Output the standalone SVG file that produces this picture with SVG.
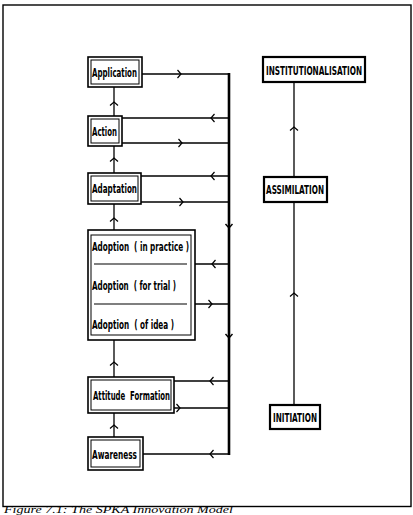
<svg xmlns="http://www.w3.org/2000/svg" width="413" height="515" viewBox="0 0 413 515">
  <style>
    .box{fill:#fff;stroke:#000;stroke-width:1.6}
    .inner{fill:none;stroke:#000;stroke-width:1}
    .rbox{fill:#fff;stroke:#000;stroke-width:2.2}
    .lbl{font-family:"Liberation Sans Narrow","DejaVu Sans Condensed","Liberation Sans",sans-serif;font-weight:bold;font-size:12.5px;fill:#000}
    .c{fill:none;stroke:#000;stroke-width:1.3;marker-mid:url(#chev)}
    .bus{fill:none;stroke:#000;stroke-width:2.6;marker-mid:url(#chevb)}
    .div{stroke:#000;stroke-width:1.2}
    .cap{font-family:"Liberation Serif",serif;font-style:italic;font-size:9.5px;fill:#000}
  </style>
  <defs>
    <marker id="chev" markerUnits="userSpaceOnUse" viewBox="-6 -6 8 12" markerWidth="8" markerHeight="12" refX="0" refY="0" orient="auto">
      <path d="M-3.5,-4 L0,0 L-3.5,4" fill="none" stroke="#000" stroke-width="1.2"/>
    </marker>
    <marker id="chevb" markerUnits="userSpaceOnUse" viewBox="-6 -6 8 12" markerWidth="8" markerHeight="12" refX="0" refY="0" orient="auto">
      <path d="M-4,-3.5 L0,0 L-4,3.5" fill="none" stroke="#000" stroke-width="1.4"/>
    </marker>
  </defs>
  <rect x="0" y="0" width="413" height="515" fill="#fff"/>
  <rect id="frame" x="3" y="5" width="408" height="501.5" fill="none" stroke="#000" stroke-width="1.4"/>

  <g id="connectors">
    <path class="c" d="M142,74 L181,74 L229,74"/>
    <path class="c" d="M229,118 L211,118 L122,118"/>
    <path class="c" d="M122,143 L182,143 L229,143"/>
    <path class="c" d="M229,176 L211,176 L141,176"/>
    <path class="c" d="M141,202 L183,202 L229,202"/>
    <path class="c" d="M229,264 L212,264 L195,264"/>
    <path class="c" d="M195,304 L212,304 L229,304"/>
    <path class="c" d="M229,381 L210,381 L174,381"/>
    <path class="c" d="M174,408 L180,408 L229,408"/>
    <path class="c" d="M229,454 L210,454 L143,454"/>
    <path class="bus" d="M229,73 L229,228 L229,338 L229,455"/>
    <path class="c" d="M114,116 L114,102 L114,87"/>
    <path class="c" d="M114,173 L114,158 L114,146"/>
    <path class="c" d="M114,230 L114,218 L114,204"/>
    <path class="c" d="M114,377 L114,362 L114,340"/>
    <path class="c" d="M114,437 L114,425 L114,413"/>
    <path class="c" d="M294,177 L294,127 L294,82"/>
    <path class="c" d="M294,405 L294,293 L294,202"/>
  </g>

  <g id="application">
    <rect class="box" x="88" y="57" width="54" height="30"/>
    <rect class="inner" x="91" y="60" width="48" height="24"/>
    <text class="lbl" x="92" y="76.5" textLength="45" lengthAdjust="spacingAndGlyphs">Application</text>
  </g>
  <g id="action">
    <rect class="box" x="88" y="116" width="34" height="30"/>
    <rect class="inner" x="91" y="119" width="28" height="24"/>
    <text class="lbl" x="92" y="135.5" textLength="25" lengthAdjust="spacingAndGlyphs">Action</text>
  </g>
  <g id="adaptation">
    <rect class="box" x="88" y="173" width="53" height="31"/>
    <rect class="inner" x="91" y="176" width="47" height="25"/>
    <text class="lbl" x="92" y="192.5" textLength="45" lengthAdjust="spacingAndGlyphs">Adaptation</text>
  </g>
  <g id="adoption">
    <rect class="box" x="88" y="230" width="107" height="110"/>
    <rect class="inner" x="91" y="235" width="100" height="100"/>
    <line class="div" x1="94" y1="264" x2="187" y2="264"/>
    <line class="div" x1="94" y1="304" x2="187" y2="304"/>
    <text class="lbl" x="92" y="250.5" textLength="97" lengthAdjust="spacingAndGlyphs" xml:space="preserve">Adoption  ( in practice )</text>
    <text class="lbl" x="92" y="289.5" textLength="84" lengthAdjust="spacingAndGlyphs" xml:space="preserve">Adoption  ( for trial )</text>
    <text class="lbl" x="92" y="328.5" textLength="82" lengthAdjust="spacingAndGlyphs" xml:space="preserve">Adoption  ( of idea )</text>
  </g>
  <g id="attitude">
    <rect class="box" x="88" y="377" width="86" height="36"/>
    <rect class="inner" x="91" y="380" width="80" height="30"/>
    <text class="lbl" x="93" y="399.5" textLength="77" lengthAdjust="spacingAndGlyphs" xml:space="preserve">Attitude  Formation</text>
  </g>
  <g id="awareness">
    <rect class="box" x="88" y="437" width="55" height="33"/>
    <rect class="inner" x="91" y="440" width="49" height="27"/>
    <text class="lbl" x="92" y="458.5" textLength="45" lengthAdjust="spacingAndGlyphs">Awareness</text>
  </g>
  <g id="institutionalisation">
    <rect class="rbox" x="263" y="57" width="102" height="25"/>
    <text class="lbl" x="266" y="74.5" textLength="96" lengthAdjust="spacingAndGlyphs">INSTITUTIONALISATION</text>
  </g>
  <g id="assimilation">
    <rect class="rbox" x="264" y="177" width="63" height="25"/>
    <text class="lbl" x="266" y="194" textLength="58" lengthAdjust="spacingAndGlyphs">ASSIMILATION</text>
  </g>
  <g id="initiation">
    <rect class="rbox" x="270" y="405" width="50" height="24"/>
    <text class="lbl" x="273" y="421.5" textLength="44" lengthAdjust="spacingAndGlyphs">INITIATION</text>
  </g>

  <text class="cap" x="4" y="513.2" textLength="229" lengthAdjust="spacingAndGlyphs">Figure 7.1: The SPKA Innovation Model</text>
</svg>
